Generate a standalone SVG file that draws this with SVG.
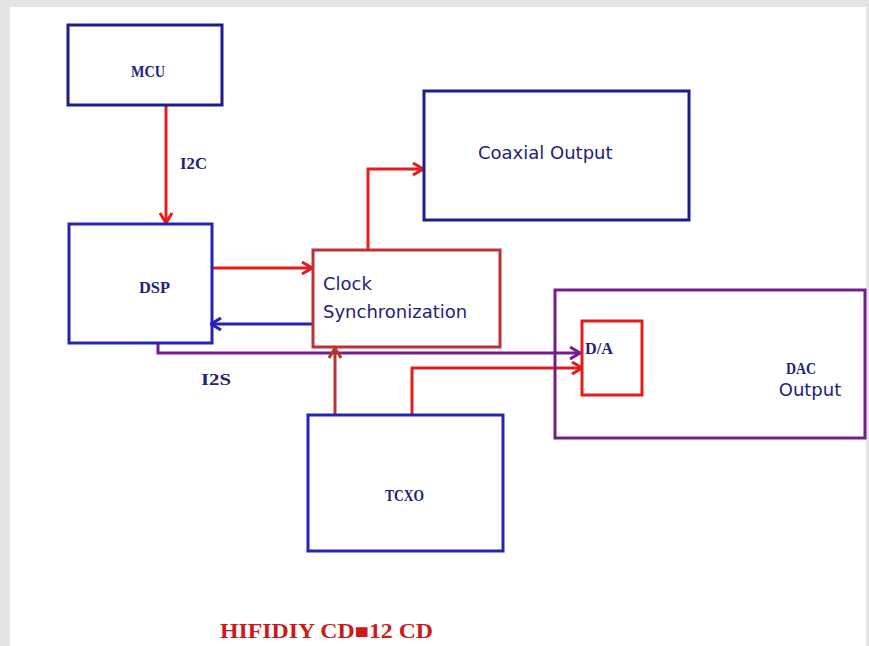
<svg xmlns="http://www.w3.org/2000/svg" width="869" height="646" viewBox="0 0 869 646">
<defs>
<style>
.bg{fill:#e4e4e4}
.panel{fill:#ffffff}
.box{fill:none;stroke-width:3}
.navy{stroke:#1c1c8c}
.blue{stroke:#2424b4}
.brick{stroke:#b83434}
.red{stroke:#e41c1c}
.purple{stroke:#761c8c}
.ln{fill:none;stroke-width:3}
.serif{font-family:"Liberation Serif","DejaVu Serif",serif;font-weight:bold;fill:#22227a;font-size:17px}
.sans{font-family:"DejaVu Sans","Liberation Sans",sans-serif;fill:#22227a;font-size:18px}
.title{font-family:"Liberation Serif","DejaVu Serif",serif;font-weight:bold;fill:#cc1a1a;font-size:20px}
</style>
<marker id="ar" viewBox="0 0 12 14" refX="11" refY="7" markerWidth="12" markerHeight="14" markerUnits="userSpaceOnUse" orient="auto"><path d="M1,1 L11,7 L1,13" fill="none" stroke="#e41c1c" stroke-width="3"/></marker>
<marker id="ab" viewBox="0 0 12 14" refX="11" refY="7" markerWidth="12" markerHeight="14" markerUnits="userSpaceOnUse" orient="auto"><path d="M1,1 L11,7 L1,13" fill="none" stroke="#2424b4" stroke-width="3"/></marker>
<marker id="ak" viewBox="0 0 12 14" refX="11" refY="7" markerWidth="12" markerHeight="14" markerUnits="userSpaceOnUse" orient="auto"><path d="M1,1 L11,7 L1,13" fill="none" stroke="#b83434" stroke-width="3"/></marker>
<marker id="ap" viewBox="0 0 12 14" refX="11" refY="7" markerWidth="12" markerHeight="14" markerUnits="userSpaceOnUse" orient="auto"><path d="M1,1 L11,7 L1,13" fill="none" stroke="#761c8c" stroke-width="3"/></marker>
</defs>
<rect class="bg" x="0" y="0" width="869" height="646"/>
<rect class="panel" x="10" y="7" width="856" height="639"/>

<g id="connectors">
<path class="ln red" d="M166,106 L166,223" marker-end="url(#ar)"/>
<path class="ln red" d="M213,268 L312,268" marker-end="url(#ar)"/>
<path class="ln blue" d="M312,324 L211,324" marker-end="url(#ab)"/>
<path class="ln red" d="M368,249 L368,169 L423,169" marker-end="url(#ar)"/>
<path class="ln purple" d="M158,344 L158,353 L580,353" marker-end="url(#ap)"/>
<path class="ln brick" d="M335,414 L335,348" marker-end="url(#ak)"/>
<path class="ln red" d="M412,414 L412,368 L582,368" marker-end="url(#ar)"/>
<text class="serif" x="180" y="169" textLength="27" lengthAdjust="spacingAndGlyphs">I2C</text>
<text class="serif" x="201" y="385" textLength="30" lengthAdjust="spacingAndGlyphs">I2S</text>
</g>

<g id="mcu">
<rect class="box navy" x="68" y="25" width="154" height="80"/>
<text class="serif" x="131" y="77" textLength="34" lengthAdjust="spacingAndGlyphs">MCU</text>
</g>

<g id="dsp">
<rect class="box blue" x="69" y="224" width="143" height="119"/>
<text class="serif" x="139" y="293" textLength="31" lengthAdjust="spacingAndGlyphs">DSP</text>
</g>

<g id="clock">
<rect class="box brick" x="313" y="250" width="187" height="97"/>
<text class="sans" x="323" y="290">Clock</text>
<text class="sans" x="323" y="318">Synchronization</text>
</g>

<g id="coaxial">
<rect class="box navy" x="424" y="91" width="265" height="129"/>
<text class="sans" x="478" y="159">Coaxial Output</text>
</g>

<g id="tcxo">
<rect class="box blue" x="308" y="415" width="195" height="136"/>
<text class="serif" x="385" y="501" textLength="39" lengthAdjust="spacingAndGlyphs">TCXO</text>
</g>

<g id="dac">
<rect class="box purple" x="555" y="290" width="310" height="148"/>
<text class="serif" x="786" y="374" textLength="30" lengthAdjust="spacingAndGlyphs">DAC</text>
<text class="sans" x="810" y="396" text-anchor="middle">Output</text>
</g>

<g id="da">
<rect class="box red" x="582" y="321" width="60" height="74"/>
<text class="serif" x="585" y="354" textLength="28" lengthAdjust="spacingAndGlyphs">D/A</text>
</g>

<text class="title" x="220" y="638" textLength="213" lengthAdjust="spacingAndGlyphs">HIFIDIY CD■12 CD</text>
</svg>
